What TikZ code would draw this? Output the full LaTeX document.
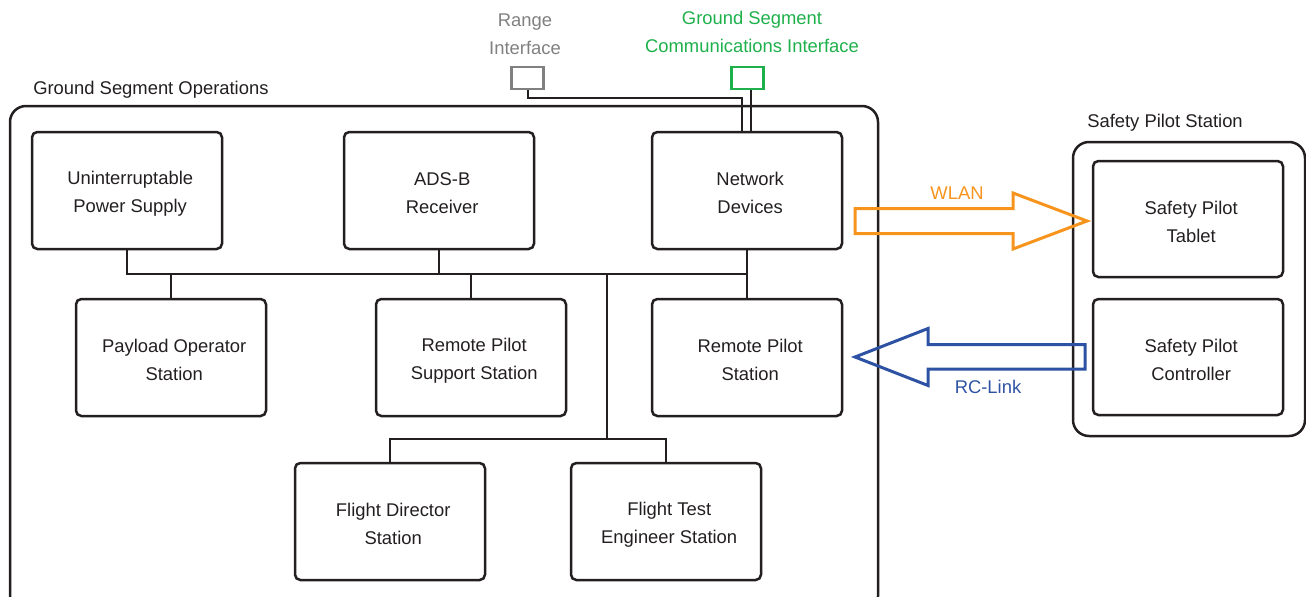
\documentclass[tikz,border=0pt]{standalone}
\usepackage{fontspec}
\setmainfont{Liberation Sans}
\definecolor{txt}{HTML}{231F20}
\definecolor{worange}{HTML}{F7941D}
\definecolor{rcblue}{HTML}{2E52A3}
\definecolor{gsgreen}{HTML}{1EB04B}
\definecolor{rgray}{HTML}{808080}
\begin{document}
\begin{tikzpicture}[x=0.75pt,y=-0.75pt,
  every node/.style={font=\fontsize{13.8pt}{21pt}\selectfont, text=txt},
  unit/.style={draw=txt, line width=1.875pt, rounded corners=4pt, minimum width=142.5pt, minimum height=87.75pt, inner sep=0pt,
    label={[align=center, inner sep=0pt, xshift=2.4pt, yshift=-2.1pt]center:#1}},
  group/.style={draw=txt, line width=1.875pt, rounded corners=12pt},
  iface/.style={line width=1.875pt, minimum width=24pt, minimum height=16.5pt, inner sep=0pt},
  bus/.style={draw=txt, line width=1.1pt},
  bigarrow/.style={line width=2.25pt, miter limit=10}]
\path[use as bounding box] (0,0) rectangle (1306,596);
\clip (0,0) rectangle (1306,596);

% groups
\draw[group] (10,106) rectangle (878,612);
\node[anchor=west, inner sep=0pt] (gsolabel) at (33,90) {Ground Segment Operations};
\draw[group] (1073,142) rectangle (1305,436);
\node[anchor=west, inner sep=0pt] (spslabel) at (1087,123) {Safety Pilot Station};

% units
\node[unit={Uninterruptable\\Power Supply}] (ups)  at (127,190.5) {};
\node[unit={ADS-B\\Receiver}] (adsb) at (439,190.5) {};
\node[unit={Network\\Devices}] (net)  at (747,190.5) {};
\node[unit={Payload Operator\\Station}] (pos)  at (171,357.5) {};
\node[unit={Remote Pilot\\Support Station}] (rpss) at (471,357.5) {};
\node[unit={Remote Pilot\\Station}] (rps)  at (747,357.5) {};
\node[unit={Flight Director\\Station}] (fds)  at (390,521.5) {};
\node[unit={Flight Test\\Engineer Station}] (fte)  at (666,521.5) {};
\node[unit={Safety Pilot\\Tablet}, minimum height=87pt] (spt) at (1188,219) {};
\node[unit={Safety Pilot\\Controller}, minimum height=87pt] (spc) at (1188,357) {};

% interfaces
\node[iface, draw=rgray] (range) at (527.5,78) {};
\node[iface, draw=gsgreen] (gsci) at (747.5,78) {};
\node[text=rgray, align=center, inner sep=0pt] (rangelabel) at (525,34) {Range\\Interface};
\node[text=gsgreen, align=center, inner sep=0pt] (gscilabel) at (752,32) {Ground Segment\\Communications Interface};

\coordinate (rj) at (742,98);
\draw[bus] (range.south -| 528,0) |- (rj) -- (rj |- net.north);
\draw[bus] (gsci.south -| 751,0) -- (net.north -| 751,0);

% bus
\coordinate (bus) at (0,274);
\coordinate (bus2) at (0,439);
\coordinate (trunk) at (607,274);
\draw[bus] (ups.south) |- (bus -| net.south);
\draw[bus] (net.south) -- (rps.north);
\draw[bus] (adsb.south) -- (adsb.south |- bus);
\draw[bus] (pos.north) -- (pos.north |- bus);
\draw[bus] (rpss.north) -- (rpss.north |- bus);
\draw[bus] (trunk) -- (trunk |- bus2);
\draw[bus] (fds.north) |- (bus2 -| fte.north) -- (fte.north);

% arrows
\draw[bigarrow, worange] (855,208.5) -- (1013,208.5) -- (1013,193) -- (1087,221) -- (1013,249) -- (1013,233.5) -- (855,233.5) -- cycle;
\node[text=worange, inner sep=0pt] (wlan) at (957,193) {WLAN};
\draw[bigarrow, rcblue] (1085,344.5) -- (928,344.5) -- (928,328.5) -- (855,357) -- (928,385.5) -- (928,369) -- (1085,369) -- cycle;
\node[text=rcblue, inner sep=0pt] (rclink) at (988,387) {RC-Link};
\end{tikzpicture}
\end{document}
